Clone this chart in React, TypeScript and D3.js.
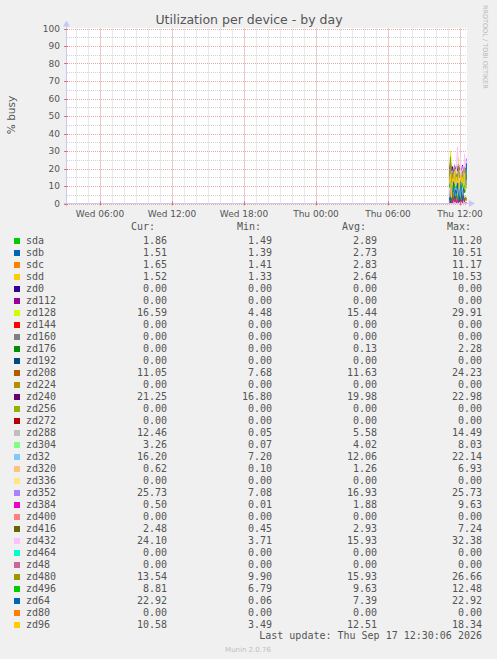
import React from "react";
import * as d3 from "d3";

const times = ["11:05","11:10","11:15","11:20","11:25","11:30","11:35","11:40","11:45","11:50","11:55","12:00","12:05","12:10","12:15","12:20","12:25","12:30"];

const devices = ["sda","sdb","sdc","sdd","zd0","zd112","zd128","zd144","zd160","zd176","zd192","zd208","zd224","zd240","zd256","zd272","zd288","zd304","zd32","zd320","zd336","zd352","zd384","zd400","zd416","zd432","zd464","zd48","zd480","zd496","zd64","zd80","zd96"];

const colors = ["#00cc00","#0066b3","#ff8000","#ffcc00","#330099","#990099","#ccff00","#ff0000","#808080","#008f00","#00487d","#b35a00","#b38f00","#6b006b","#8fb300","#b30000","#bebebe","#80ff80","#80c9ff","#ffc080","#ffe680","#aa80ff","#ee00cc","#ff8080","#666600","#ffbfff","#00ffcc","#cc6699","#999900","#00cc00","#0066b3","#ff8000","#ffcc00"];

const zeroSeries = [0,0,0,0,0,0,0,0,0,0,0,0,0,0,0,0,0,0];
const sda = [2.10,1.75,11.20,2.40,1.60,2.05,1.49,4.10,1.95,3.30,1.70,3.60,1.80,5.20,2.00,1.65,2.25,1.86];
const sdb = [1.95,10.51,2.20,1.60,3.80,1.45,2.10,1.39,3.40,1.75,2.90,1.62,4.30,1.85,2.40,1.50,2.87,1.51];
const sdc = [2.05,1.80,11.17,2.30,1.41,3.60,1.95,2.70,1.55,4.10,1.70,2.45,1.90,3.20,1.60,2.85,2.92,1.65];
const sdd = [1.90,1.65,10.53,2.15,1.33,3.40,1.80,2.55,1.45,3.90,1.60,2.30,1.75,3.05,1.50,2.70,2.32,1.52];
const zd128 = [12.40,29.91,8.20,18.60,4.48,22.30,14.10,19.80,9.60,26.40,11.20,17.30,13.50,21.70,10.80,15.20,6.00,16.59];
const zd176 = [0,0,0,0,0,0,0,2.28,0,0,0,0,0,0,0.06,0,0,0];
const zd208 = [9.20,24.23,8.40,12.60,7.68,14.90,10.10,11.80,8.90,13.70,9.60,12.20,10.40,15.30,8.80,11.40,9.00,11.05];
const zd240 = [19.40,22.98,18.20,21.10,16.80,20.50,19.90,21.70,18.60,22.40,19.10,20.30,18.90,21.90,17.60,20.80,18.45,21.25];
const zd288 = [0.05,2.30,14.49,0.80,6.70,0.20,9.40,1.10,5.20,0.60,11.30,3.40,0.35,8.10,2.60,13.20,8.15,12.46];
const zd304 = [2.10,5.60,0.07,8.03,3.40,6.20,1.30,4.90,7.10,0.90,5.30,2.70,6.80,1.60,4.40,3.90,4.84,3.26];
const zd32 = [10.40,22.14,8.60,13.90,7.20,15.40,9.80,12.70,8.30,14.60,10.90,12.20,9.40,16.80,8.90,11.60,7.86,16.20];
const zd320 = [0.40,6.93,0.10,1.80,0.30,2.40,0.20,1.10,0.50,3.20,0.15,0.90,0.35,1.70,0.25,0.60,1.18,0.62];
const zd352 = [12.30,20.80,7.08,18.40,14.60,22.10,9.90,17.20,15.80,19.60,16.40,16.30,13.70,21.40,15.60,18.90,18.89,25.73];
const zd384 = [0.20,1.40,9.63,0.01,2.60,0.80,4.10,0.30,1.90,0.05,3.40,0.60,2.20,0.15,4.60,0.90,0.46,0.50];
const zd416 = [1.80,4.60,0.45,7.24,2.10,3.50,1.20,5.10,2.70,0.90,3.90,1.60,4.80,2.30,3.20,1.40,3.42,2.48];
const zd432 = [8.40,3.71,18.60,11.20,9.80,14.50,6.90,21.30,32.38,17.40,5.60,26.70,12.30,19.90,7.20,28.40,18.31,24.10];
const zd480 = [14.20,26.66,11.80,17.40,9.90,19.60,13.10,16.80,12.40,21.30,14.70,15.90,12.90,18.70,11.30,16.20,20.30,13.54];
const zd496 = [9.40,12.48,7.90,10.60,6.79,11.20,8.70,10.10,8.20,11.80,9.10,10.40,8.50,11.50,7.60,10.30,9.83,8.81];
const zd64 = [3.20,0.06,9.80,6.40,14.30,2.60,7.90,5.50,11.60,4.10,0.90,13.20,5.40,1.20,8.70,6.30,8.90,22.92];
const zd96 = [11.40,16.80,3.49,14.20,12.60,18.34,9.70,15.10,11.90,13.80,8.60,16.20,12.30,14.90,10.40,17.10,7.80,10.58];

const seriesValues = [sda,sdb,sdc,sdd,zeroSeries,zeroSeries,zd128,zeroSeries,zeroSeries,zd176,zeroSeries,zd208,zeroSeries,zd240,zeroSeries,zeroSeries,zd288,zd304,zd32,zd320,zeroSeries,zd352,zd384,zeroSeries,zd416,zd432,zeroSeries,zeroSeries,zd480,zd496,zd64,zeroSeries,zd96];

const curVals = [1.86,1.51,1.65,1.52,0,0,16.59,0,0,0,0,11.05,0,21.25,0,0,12.46,3.26,16.20,0.62,0,25.73,0.50,0,2.48,24.10,0,0,13.54,8.81,22.92,0,10.58];
const minVals = [1.49,1.39,1.41,1.33,0,0,4.48,0,0,0,0,7.68,0,16.80,0,0,0.05,0.07,7.20,0.10,0,7.08,0.01,0,0.45,3.71,0,0,9.90,6.79,0.06,0,3.49];
const avgVals = [2.89,2.73,2.83,2.64,0,0,15.44,0,0,0.13,0,11.63,0,19.98,0,0,5.58,4.02,12.06,1.26,0,16.93,1.88,0,2.93,15.93,0,0,15.93,9.63,7.39,0,12.51];
const maxVals = [11.20,10.51,11.17,10.53,0,0,29.91,0,0,2.28,0,24.23,0,22.98,0,0,14.49,8.03,22.14,6.93,0,25.73,9.63,0,7.24,32.38,0,0,26.66,12.48,22.92,0,18.34];

const yTicks = [0,10,20,30,40,50,60,70,80,90,100];
const yMinor = [5,15,25,35,45,55,65,75,85,95];

const W = 497, H = 659;
const PL = 67, PR = 467, PT = 28.5, PB = 203.5;
const mono = "'DejaVu Sans Mono', monospace";
const sans = "'DejaVu Sans', sans-serif";

function parseTime(t: string) {
  const [h, m] = t.split(":").map(Number);
  return new Date(Date.UTC(2026, 8, 17, h, m));
}

export default function App() {
  const x = d3.scaleUtc()
    .domain([new Date(Date.UTC(2026, 8, 16, 3, 15)), new Date(Date.UTC(2026, 8, 17, 12, 35))])
    .range([PL, PR]);
  const y = d3.scaleLinear().domain([0, 100]).range([PB, PT]);
  const majorX = x.ticks(d3.utcHour.every(6)!);
  const minorX = x.ticks(d3.utcHour.every(1)!);
  const fmt = d3.utcFormat("%a %H:%M");
  const line = d3.line<number>()
    .x((_, i) => Math.round(x(parseTime(times[i]))) + 0.5)
    .y((d) => y(d));
  const px = (v: number) => Math.round(v) + 0.5;
  const axisColor = "#c8c8f4";
  const textColor = "#555555";
  const cols = [
    { head: "Cur:", hx: 131, vx: 167, vals: curVals },
    { head: "Min:", hx: 237, vx: 272, vals: minVals },
    { head: "Avg:", hx: 342, vx: 377, vals: avgVals },
    { head: "Max:", hx: 447, vx: 482, vals: maxVals },
  ];
  return (
    <svg width={W} height={H} style={{ position: "absolute", left: 0, top: 0 }}>
      <rect x={0} y={0} width={W} height={H} fill="#f0f0f0" />
      <rect x={PL} y={PT - 0.5} width={PR - PL} height={PB - PT + 0.5} fill="#ffffff" />
      {/* minor grid */}
      {minorX.map((d, i) => (
        <line key={"mx" + i} x1={px(x(d))} x2={px(x(d))} y1={PT} y2={PB} stroke="#d4d4d4" strokeWidth={1} strokeDasharray="1,1" />
      ))}
      {yMinor.map((v) => (
        <line key={"my" + v} x1={PL} x2={PR} y1={px(y(v))} y2={px(y(v))} stroke="#d4d4d4" strokeWidth={1} strokeDasharray="1,1" />
      ))}
      {/* major grid */}
      {majorX.map((d, i) => (
        <line key={"Mx" + i} x1={px(x(d))} x2={px(x(d))} y1={PT} y2={PB} stroke="#eaa8a8" strokeWidth={1} strokeDasharray="1,1" />
      ))}
      {yTicks.map((v) => (
        <line key={"My" + v} x1={PL} x2={PR} y1={px(y(v))} y2={px(y(v))} stroke="#eaa8a8" strokeWidth={1} strokeDasharray="1,1" />
      ))}
      {/* series lines */}
      {seriesValues.map((vals, i) => (
        <path key={"s" + i} d={line(vals) || ""} fill="none" stroke={colors[i]} strokeWidth={1} />
      ))}
      {/* axes */}
      <line x1={PL - 3} x2={PR + 3} y1={PB} y2={PB} stroke={axisColor} strokeWidth={1} />
      <path d={`M${PR + 2},${PB - 3.5} L${PR + 8},${PB} L${PR + 2},${PB + 3.5} Z`} fill={axisColor} />
      <line x1={PL - 0.5} x2={PL - 0.5} y1={PB + 3} y2={PT - 4} stroke={axisColor} strokeWidth={1} />
      <path d={`M${PL - 4},${PT - 2} L${PL - 0.5},${PT - 8} L${PL + 3},${PT - 2} Z`} fill={axisColor} />
      {majorX.map((d, i) => (
        <line key={"tk" + i} x1={px(x(d))} x2={px(x(d))} y1={PB - 2} y2={PB + 2} stroke="#e07070" strokeWidth={1} />
      ))}
      {yTicks.map((v) => (
        <line key={"ytk" + v} x1={PL - 3} x2={PL + 1} y1={px(y(v))} y2={px(y(v))} stroke="#e07070" strokeWidth={1} />
      ))}
      {/* tick labels */}
      {yTicks.map((v) => (
        <text key={"yl" + v} x={60} y={y(v) + 3.3} textAnchor="end" fontFamily={sans} fontSize={9} fill={textColor}>{v}</text>
      ))}
      {majorX.map((d, i) => (
        <text key={"xl" + i} x={x(d)} y={216.5} textAnchor="middle" fontFamily={sans} fontSize={9} fill={textColor}>{fmt(d)}</text>
      ))}
      {/* title & labels */}
      <text x={249} y={24} textAnchor="middle" fontFamily={sans} fontSize={12.5} fill={textColor}>Utilization per device - by day</text>
      <text transform="translate(15,115) rotate(-90)" textAnchor="middle" fontFamily={sans} fontSize={10.5} fill={textColor}>% busy</text>
      <text transform="translate(483,5) rotate(90)" textAnchor="start" fontFamily={sans} fontSize={6.5} fill="#b8b8b8">RRDTOOL / TOBI OETIKER</text>
      {/* legend header */}
      {cols.map((c) => (
        <text key={c.head} x={c.hx} y={230} fontFamily={mono} fontSize={10} fill={textColor}>{c.head}</text>
      ))}
      {devices.map((name, i) => {
        const by = 244 + i * 12;
        return (
          <g key={name}>
            <rect x={14} y={by - 6} width={6} height={6} fill={colors[i]} />
            <text x={26} y={by} fontFamily={mono} fontSize={10} fill={textColor}>{name}</text>
            {cols.map((c) => (
              <text key={c.head} x={c.vx} y={by} textAnchor="end" fontFamily={mono} fontSize={10} fill={textColor}>{c.vals[i].toFixed(2)}</text>
            ))}
          </g>
        );
      })}
      <text x={482} y={639} textAnchor="end" fontFamily={mono} fontSize={10} fill={textColor}>Last update: Thu Sep 17 12:30:06 2026</text>
      <text x={248} y={652} textAnchor="middle" fontFamily={sans} fontSize={7} fill="#c0c0c0">Munin 2.0.76</text>
    </svg>
  );
}
